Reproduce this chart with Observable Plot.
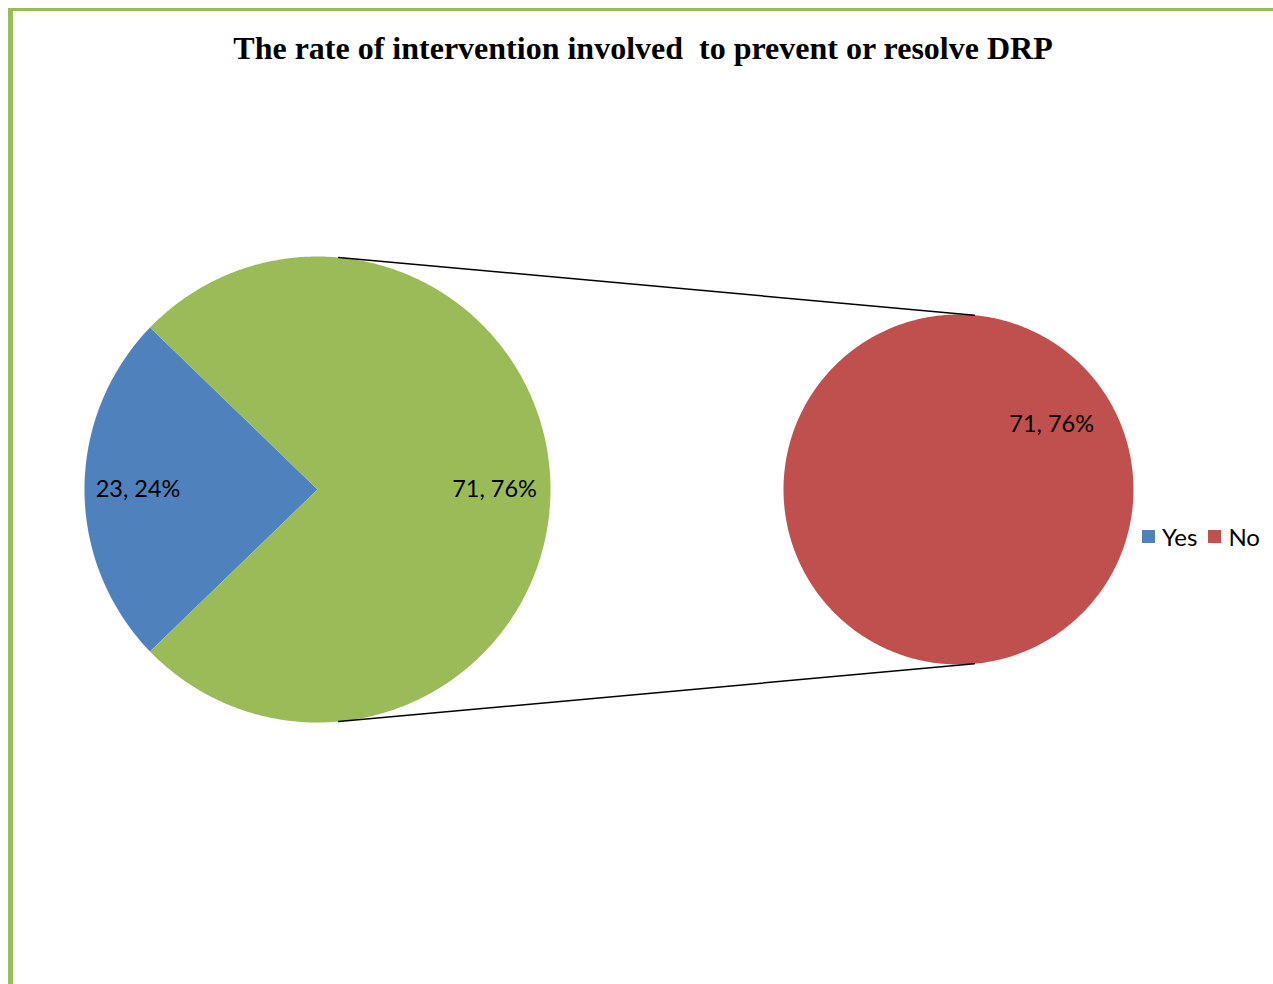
<!DOCTYPE html>
<html>
<head>
<meta charset="utf-8">
<script src="https://cdn.jsdelivr.net/npm/d3@7"></script>
<script src="https://cdn.jsdelivr.net/npm/@observablehq/plot@0.6"></script>
<style>
  html, body { margin: 0; padding: 0; background: #fff; }
  #page { position: relative; width: 1273px; height: 984px; overflow: hidden; }
  #frame {
    position: absolute; left: 8px; top: 8px; width: 1280px; height: 1100px;
    box-sizing: border-box;
    border-style: solid; border-color: #9BBB59;
    border-width: 3px 3px 0 5px;
  }
  #title {
    position: absolute; left: 13px; top: 0; width: 1260px; height: 80px;
    text-align: center;
    font-family: "Liberation Serif", "Times New Roman", serif;
    font-weight: bold; font-size: 32px; line-height: 96px;
    white-space: pre; color: #000;
  }
  #chart { position: absolute; left: 0; top: 80px; }
  #legend { position: absolute; left: 1142px; top: 522px; width: 200px; white-space: nowrap; }
  #legend .lg-swatches { margin: 0 !important; min-height: 0 !important; }
  #legend .lg-swatch { margin-right: 11px !important; }
  #legend .lg-swatch > svg { margin-right: 7px !important; }
</style>
</head>
<body>
<div id="page">
  <div id="frame"></div>
  <div id="title">The rate of intervention involved  to prevent or resolve DRP</div>
  <div id="chart"></div>
  <div id="legend"></div>
</div>
<script>
// Responses: was an intervention involved to prevent or resolve a DRP?
const categories = ["Yes", "No"];
const counts = [23, 71];
const percents = ["24%", "76%"];
const colors = ["#4F81BD", "#C0504D"];
const otherColor = "#9BBB59";   // the "other" slice that is split out into the second pie

const total = d3.sum(counts);

// Geometry, in units of the main pie's radius
const R1 = 1, R2 = 0.751;
const C1 = [0, 0], C2 = [2.751, 0];

// Angles are measured clockwise from 12 o'clock; "Yes" is centred on 9 o'clock
const yesSpan = counts[0] / total * 2 * Math.PI;
const yesStart = 1.5 * Math.PI - yesSpan / 2;
const yesEnd = 1.5 * Math.PI + yesSpan / 2;

function sector(key, c, r, a0, a1) {
  const pts = [{key, x: c[0], y: c[1]}];
  const n = Math.max(8, Math.ceil((a1 - a0) / 0.01));
  for (let i = 0; i <= n; ++i) {
    const a = a0 + (a1 - a0) * i / n;
    pts.push({key, x: c[0] + r * Math.sin(a), y: c[1] + r * Math.cos(a)});
  }
  pts.push({key, x: c[0], y: c[1]});
  return pts;
}
const polar = (c, r, a) => ({x: c[0] + r * Math.sin(a), y: c[1] + r * Math.cos(a)});

const yesSlice = sector("Yes", C1, R1, yesStart, yesEnd);
const otherSlice = sector("Other", C1, R1, yesEnd, yesStart + 2 * Math.PI);
const noSlice = sector("No", C2, R2, 0, 2 * Math.PI);

// Connector lines between the two pies
const joinAngle = 5.2 * Math.PI / 180;
const connectors = [
  {id: "top", ...polar(C1, R1, joinAngle)}, {id: "top", ...polar(C2, R2, joinAngle)},
  {id: "bottom", ...polar(C1, R1, Math.PI - joinAngle)}, {id: "bottom", ...polar(C2, R2, Math.PI - joinAngle)}
];

// Data labels "count, percent"
const labels = [
  {text: `${counts[0]}, ${percents[0]}`, ...polar(C1, 0.77 * R1, 1.5 * Math.PI)},
  {text: `${counts[1]}, ${percents[1]}`, ...polar(C1, 0.76 * R1, 0.5 * Math.PI)},
  {text: `${counts[1]}, ${percents[1]}`, ...polar(C2, 0.65 * R2, 55 * Math.PI / 180)}
];

const W = 1273, H = 904;
const unit = 233;               // pixels per radius unit
const cx = 317, cy = 409;       // main pie centre inside the SVG

const chart = Plot.plot({
  width: W, height: H, margin: 0,
  x: {domain: [-cx / unit, (W - cx) / unit], range: [0, W], axis: null},
  y: {domain: [-(H - cy) / unit, cy / unit], range: [H, 0], axis: null},
  style: {background: "transparent", overflow: "visible"},
  marks: [
    Plot.line(yesSlice, {x: "x", y: "y", fill: colors[0], stroke: "none", curve: "linear"}),
    Plot.line(otherSlice, {x: "x", y: "y", fill: otherColor, stroke: "none", curve: "linear"}),
    Plot.line(noSlice, {x: "x", y: "y", fill: colors[1], stroke: "none", curve: "linear"}),
    Plot.line(connectors, {x: "x", y: "y", z: "id", stroke: "#000", strokeWidth: 1.5}),
    Plot.text(labels, {x: "x", y: "y", text: "text", fontSize: 23.5, fontFamily: "Lato", fill: "#000"})
  ]
});
document.getElementById("chart").append(chart);

const legend = Plot.legend({
  color: {type: "ordinal", domain: categories, range: colors},
  swatchSize: 13,
  className: "lg",
  style: {fontFamily: "Lato", fontSize: "24px", color: "#000", background: "transparent"}
});
document.getElementById("legend").append(legend);
</script>
</body>
</html>
